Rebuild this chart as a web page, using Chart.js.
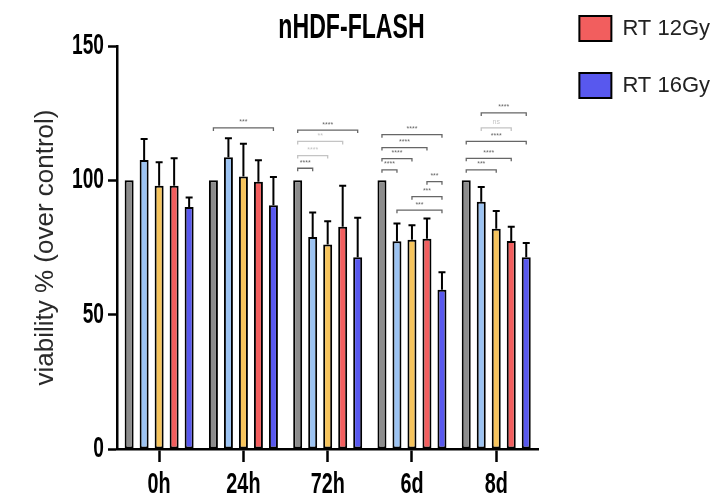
<!DOCTYPE html>
<html><head><meta charset="utf-8">
<script src="https://cdn.jsdelivr.net/npm/chart.js@4.4.1/dist/chart.umd.min.js"></script>
<style>html,body{margin:0;padding:0;background:#fff;}canvas{display:block;}</style>
</head><body>
<canvas id="c" width="725" height="497"></canvas>
<script>
// ---- data ----
const categories = ['0h', '24h', '72h', '6d', '8d'];
const seriesNames = ['Control', 'FLASH 12Gy', 'FLASH 16Gy', 'RT 12Gy', 'RT 16Gy'];
const control = [100, 100, 100, 100, 100];
const flash12 = [107.6, 108.6, 78.9, 77.3, 92.0];
const flash16 = [98.0, 101.4, 76.1, 77.9, 82.0];
const rt12 = [98.0, 99.5, 82.7, 78.3, 77.4];
const rt16 = [90.1, 90.7, 71.4, 59.3, 71.4];
const controlSd = [0, 0, 0, 0, 0];
const flash12Sd = [7.8, 7.1, 9.1, 6.6, 5.5];
const flash16Sd = [8.7, 12.2, 8.7, 5.4, 6.6];
const rt12Sd = [10.2, 8.0, 15.3, 7.5, 5.3];
const rt16Sd = [3.5, 10.5, 14.7, 6.5, 5.3];
const yTicks = [0, 50, 100, 150];
// significance brackets: category index, from series, to series, height (value), label
const sigGroup = [1, 2, 2, 2, 2, 3, 3, 3, 3, 3, 3, 3, 4, 4, 4, 4, 4];
const sigFrom  = [0, 0, 0, 0, 0, 0, 0, 0, 0, 3, 2, 1, 1, 1, 0, 0, 0];
const sigTo    = [4, 4, 3, 2, 1, 4, 3, 2, 1, 4, 4, 4, 4, 3, 4, 3, 2];
const sigY     = [119.5, 118.7, 114.5, 109.2, 104.5, 117.0, 112.2, 108.1, 103.9, 99.5, 93.9, 88.9, 125.1, 119.5, 114.5, 108.2, 103.9];
const sigLabel = ['***', '****', '**', '****', '****', '****', '****', '****', '****', '***', '***', '***', '****', 'ns', '****', '****', '***'];

// ---- styles ----
const values = [control, flash12, flash16, rt12, rt16];
const errors = [controlSd, flash12Sd, flash16Sd, rt12Sd, rt16Sd];
const fills = ['#8c8c8c', '#9cc3f2', '#f6c45c', '#f25e5e', '#5858ee'];
const condensed = "'Liberation Sans Narrow','Liberation Sans',Arial,sans-serif";
const regular = "'Liberation Sans',Arial,sans-serif";
const sigLight = [2, 3, 13];
const narrowScale = 0.66;

const canvas = document.getElementById('c');
const ctx2d = canvas.getContext('2d');
// condensed bold lettering (the original uses a narrow face)
const baseFill = ctx2d.fillText.bind(ctx2d);
ctx2d.fillText = function (text, x, y, maxWidth) {
  if (this.font.indexOf('Narrow') >= 0) {
    this.save();
    this.translate(x, y);
    this.scale(narrowScale, 1);
    baseFill(text, 0, 0);
    this.restore();
  } else if (maxWidth !== undefined) {
    baseFill(text, x, y, maxWidth);
  } else {
    baseFill(text, x, y);
  }
};

const errorBars = {
  id: 'errorBars',
  afterDatasetsDraw(chart) {
    const ctx = chart.ctx, ys = chart.scales.y;
    ctx.save();
    ctx.strokeStyle = '#000';
    ctx.lineWidth = 2;
    values.forEach((vals, d) => {
      const meta = chart.getDatasetMeta(d);
      meta.data.forEach((bar, i) => {
        const sd = errors[d][i];
        if (!sd) return;
        const yTop = ys.getPixelForValue(vals[i] + sd);
        ctx.beginPath();
        ctx.moveTo(bar.x, bar.y);
        ctx.lineTo(bar.x, yTop);
        ctx.moveTo(bar.x - 3.5, yTop);
        ctx.lineTo(bar.x + 3.5, yTop);
        ctx.stroke();
      });
    });
    ctx.restore();
  }
};

const brackets = {
  id: 'brackets',
  afterDatasetsDraw(chart) {
    const ctx = chart.ctx, ys = chart.scales.y;
    ctx.save();
    ctx.lineWidth = 1.3;
    ctx.textAlign = 'center';
    ctx.textBaseline = 'bottom';
    ctx.font = '7px ' + regular;
    sigGroup.forEach((g, k) => {
      const x1 = chart.getDatasetMeta(sigFrom[k]).data[g].x;
      const x2 = chart.getDatasetMeta(sigTo[k]).data[g].x;
      const y = ys.getPixelForValue(sigY[k]);
      const col = sigLight.includes(k) ? '#c4c4c4' : '#666';
      ctx.strokeStyle = col;
      ctx.fillStyle = col;
      ctx.beginPath();
      ctx.moveTo(x1, y + 3);
      ctx.lineTo(x1, y);
      ctx.lineTo(x2, y);
      ctx.lineTo(x2, y + 3);
      ctx.stroke();
      ctx.fillText(sigLabel[k], (x1 + x2) / 2, y - 2);
    });
    ctx.restore();
  }
};

new Chart(ctx2d, {
  type: 'bar',
  data: {
    labels: categories,
    datasets: values.map((v, d) => ({
      label: seriesNames[d],
      data: v,
      backgroundColor: fills[d],
      borderColor: '#000',
      borderWidth: 2,
      borderSkipped: false,
      categoryPercentage: 0.89,
      barPercentage: 0.6
    }))
  },
  options: {
    responsive: false,
    animation: false,
    devicePixelRatio: 1,
    layout: { padding: { top: -16, right: 5, left: -17, bottom: 0 } },
    plugins: {
      tooltip: { enabled: false },
      title: {
        display: true,
        text: 'nHDF-FLASH',
        color: '#000',
        font: { family: condensed, size: 35, weight: 'bold', lineHeight: 1 },
        padding: { top: 27, bottom: 0 }
      },
      legend: {
        position: 'right',
        align: 'start',
        maxWidth: 300,
        labels: {
          filter: item => item.datasetIndex >= 3,
          boxWidth: 32,
          boxHeight: 25,
          padding: 32,
          color: '#222',
          font: { family: regular, size: 22 }
        }
      }
    },
    scales: {
      x: {
        offset: true,
        grid: { drawOnChartArea: false, offset: false, tickLength: 13, tickWidth: 2.5, tickColor: '#000' },
        border: { color: '#000', width: 2.5 },
        ticks: { color: '#000', padding: 5, autoSkip: false, maxRotation: 0, font: { family: condensed, size: 30, weight: 'bold' } },
        afterFit: s => { s.height = 48; }
      },
      y: {
        min: 0,
        max: 150,
        afterBuildTicks: s => { s.ticks = yTicks.map(v => ({ value: v })); },
        grid: { drawOnChartArea: false, tickLength: 9, tickWidth: 2.5, tickColor: '#000' },
        border: { color: '#000', width: 2.5 },
        ticks: { color: '#000', padding: 4, font: { family: condensed, size: 29, weight: 'bold' } },
        title: {
          display: true,
          text: 'viability % (over control)',
          color: '#2a2a2a',
          font: { family: regular, size: 26 },
          padding: { top: 47.4, bottom: 0 }
        },
        afterFit: s => { s.width = 134; }
      },
      y2: {
        position: 'right',
        display: true,
        grid: { display: false, drawTicks: false },
        border: { display: false },
        ticks: { display: false },
        afterFit: s => { s.width = 9; }
      }
    }
  },
  plugins: [errorBars, brackets]
});
</script>
</body></html>
